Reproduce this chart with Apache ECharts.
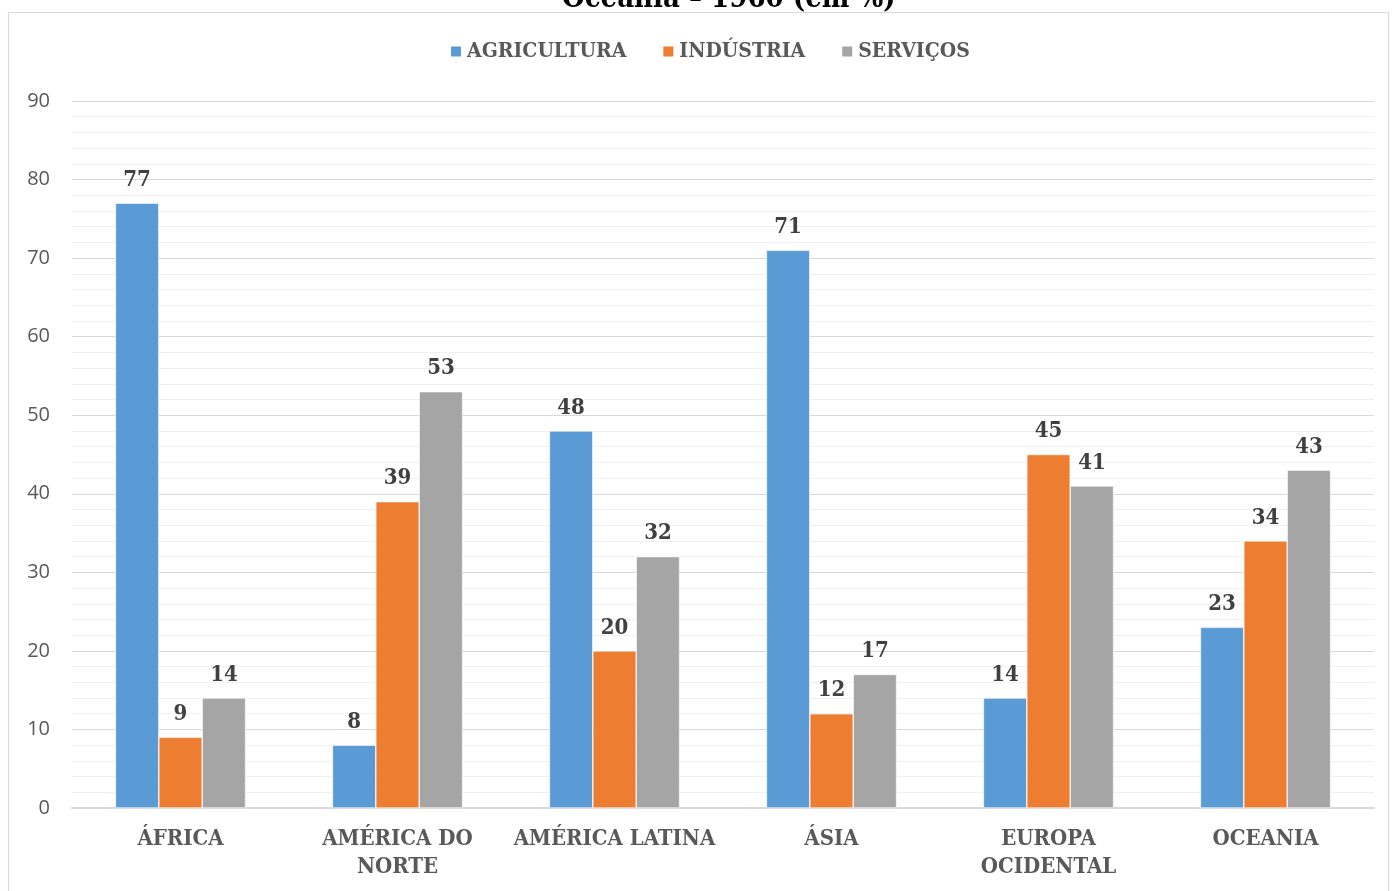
<!DOCTYPE html>
<html>
<head>
<meta charset="utf-8">
<script src="https://cdn.jsdelivr.net/npm/echarts@6/dist/echarts.min.js"></script>
<style>
  html, body { margin: 0; padding: 0; background: #fff; }
  #chart { width: 1392px; height: 891px; }
</style>
</head>
<body>
<div id="chart"></div>
<script>
// Regions (two-line names break where the axis label wraps)
const regioes = ['ÁFRICA', 'AMÉRICA DO\nNORTE', 'AMÉRICA LATINA', 'ÁSIA', 'EUROPA\nOCIDENTAL', 'OCEANIA'];
// Share of the workforce by sector, in %
const agricultura = [77, 8, 48, 71, 14, 23];
const industria = [9, 39, 20, 12, 45, 34];
const servicos = [14, 53, 32, 17, 41, 43];
const nomesSetores = ['AGRICULTURA', 'INDÚSTRIA', 'SERVIÇOS'];
const titulo = 'Oceania – 1960 (em %)';

const serif = '"DejaVu Serif Condensed", "DejaVu Serif", serif';
const cores = ['#5b9bd5', '#ed7d31', '#a5a5a5'];

const rotulo = {
  show: true,
  position: 'top',
  distance: 12,
  fontFamily: serif,
  fontWeight: 'bold',
  fontSize: 22,
  color: '#404040'
};

function serie(nome, dados, cor) {
  return {
    name: nome,
    type: 'bar',
    data: dados,
    barGap: '0%',
    barCategoryGap: '40%',
    itemStyle: { color: cor, borderColor: '#ffffff', borderWidth: 0.6 },
    label: rotulo
  };
}

const chart = echarts.init(document.getElementById('chart'));
chart.setOption({
  animation: false,
  color: cores,
  title: {
    text: titulo,
    left: 557,
    top: -20,
    textStyle: { fontFamily: serif, fontWeight: 'bold', fontSize: 29, color: '#000000' }
  },
  graphic: [{
    type: 'rect',
    shape: { x: 8.5, y: 12.5, width: 1380, height: 900 },
    style: { fill: 'none', stroke: '#d9d9d9', lineWidth: 1.2 },
    silent: true
  }],
  legend: {
    data: nomesSetores,
    top: 36,
    left: 444,
    itemWidth: 12,
    itemHeight: 12,
    itemGap: 35,
    icon: 'rect',
    textStyle: { fontFamily: serif, fontWeight: 'bold', fontSize: 21, color: '#595959' }
  },
  grid: { left: 72, right: 18, top: 101, bottom: 83, containLabel: false },
  xAxis: {
    type: 'category',
    data: regioes,
    axisTick: { show: false },
    axisLine: { lineStyle: { color: '#d9d9d9', width: 2 } },
    axisLabel: {
      interval: 0,
      margin: 17,
      fontFamily: serif,
      fontWeight: 'bold',
      fontSize: 22,
      lineHeight: 28,
      color: '#595959'
    }
  },
  yAxis: {
    type: 'value',
    min: 0,
    max: 90,
    interval: 10,
    axisLine: { show: false },
    axisTick: { show: false },
    axisLabel: { fontFamily: 'Open Sans, Noto Sans, sans-serif', fontSize: 20, color: '#595959', margin: 22 },
    splitLine: { lineStyle: { color: '#d9d9d9', width: 1.2 } },
    minorTick: { show: false, splitNumber: 5 },
    minorSplitLine: { show: true, lineStyle: { color: '#f0f0f0', width: 1.2 } }
  },
  series: [
    serie(nomesSetores[0], agricultura, cores[0]),
    serie(nomesSetores[1], industria, cores[1]),
    serie(nomesSetores[2], servicos, cores[2])
  ]
});
</script>
</body>
</html>
